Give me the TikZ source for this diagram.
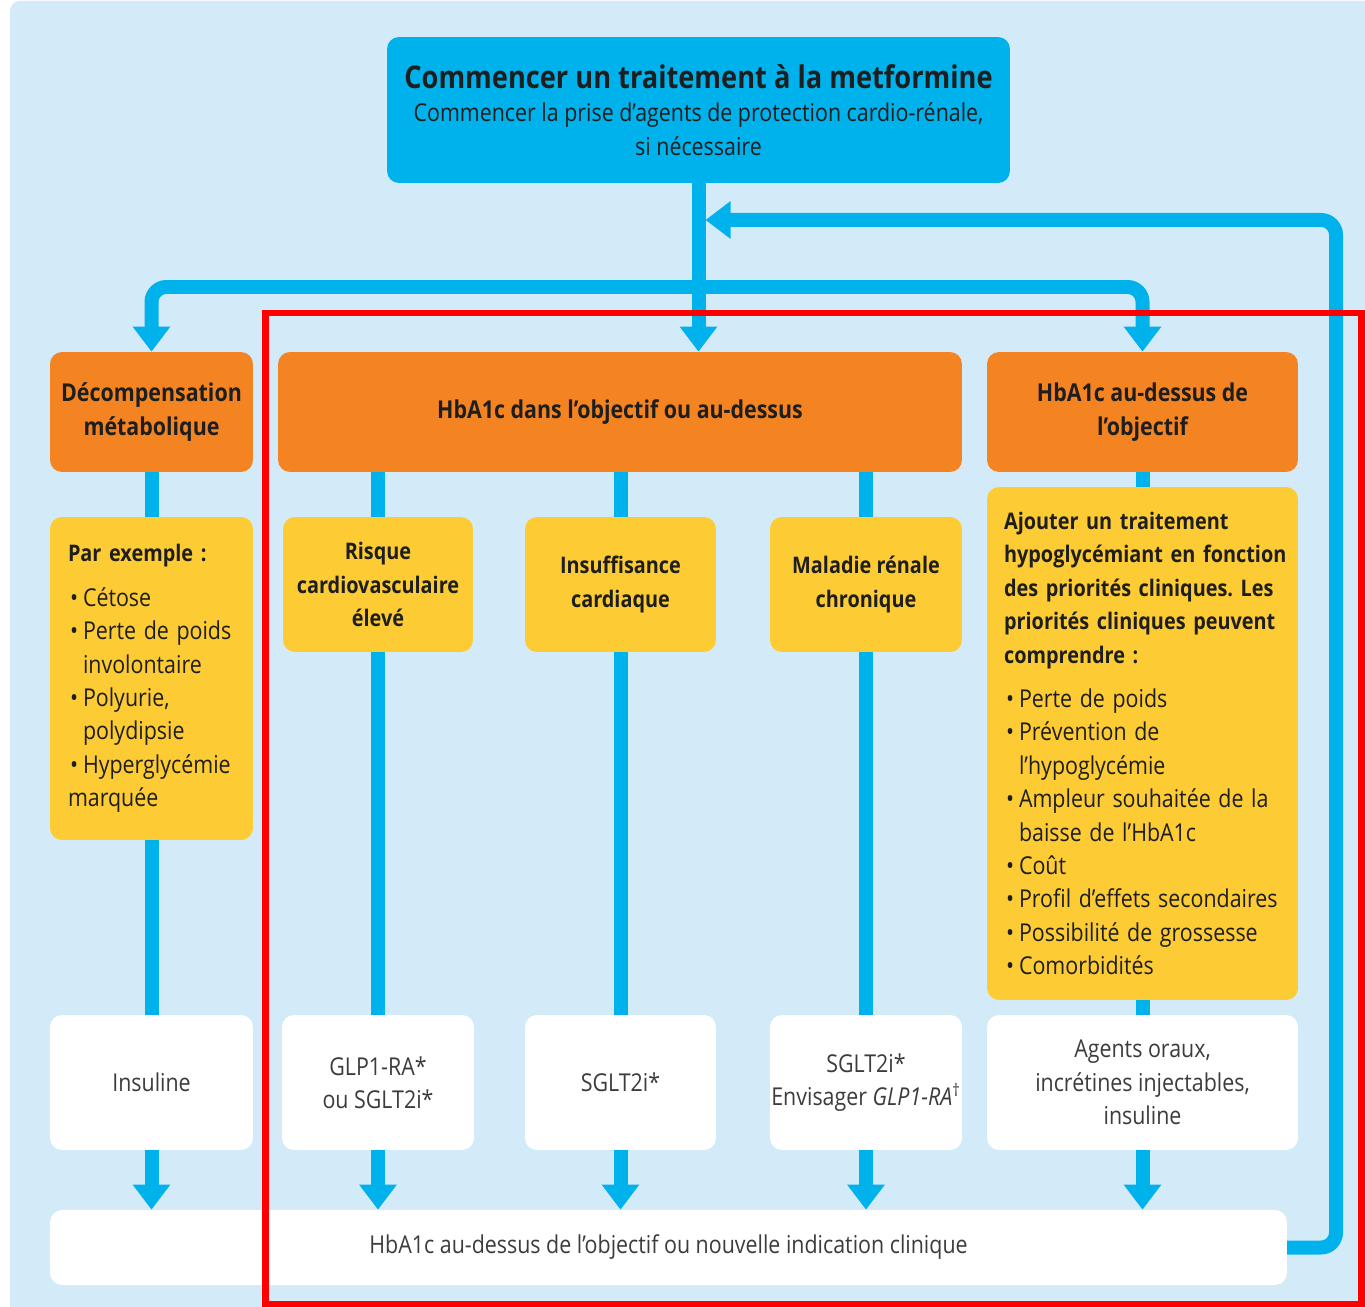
\documentclass[tikz,border=0pt]{standalone}
\usepackage{fontspec}
\setmainfont{Open Sans}[FakeStretch=0.87]
\usetikzlibrary{arrows.meta,positioning}
\definecolor{fond}{HTML}{D3EAF8}
\definecolor{bleu}{HTML}{00B2EB}
\definecolor{orangeb}{HTML}{F48422}
\definecolor{jaune}{HTML}{FDCB33}
\definecolor{texte}{HTML}{1E1E1E}
\definecolor{gris}{HTML}{3C3C3C}
\definecolor{rouge}{HTML}{FF0000}
\pgfdeclarelayer{fondplan}
\pgfdeclarelayer{liens}
\pgfsetlayers{fondplan,liens,main}
\frenchspacing
\newcommand\corps{\mdseries\fontsize{14}{19}\selectfont}
\newcommand\gras{\bfseries\fontsize{14}{19}\selectfont}
\newcommand\grasj{\bfseries\fontsize{13}{19}\selectfont}
\newcommand\titre{\bfseries\fontsize{17.8}{22}\selectfont}
\newcommand\puce[1]{\par\hangindent=0.3cm\hangafter=1\noindent\hspace{0.04cm}\makebox[0.26cm][l]{•}#1}

\begin{document}
\begin{tikzpicture}[x=0.02cm,y=-0.02cm,
    box/.style={rounded corners=0.24cm, inner sep=0pt, text=texte, align=center},
    orangebox/.style={box, fill=orangeb, minimum height=2.4cm, font=\gras},
    jaunebox/.style={box, fill=jaune, font=\grasj},
    blancbox/.style={box, fill=white, minimum height=2.7cm, text=gris, font=\corps},
    lien/.style={bleu, line width=0.28cm},
    fleche/.style={lien, -{Triangle[width=0.72cm,length=0.5cm]}}]
\useasboundingbox (0,0) rectangle (1365,1307);
\begin{pgfonlayer}{fondplan}
\fill[white] (0,0) rectangle (1365,1307);
\fill[fond] (10,1307) [rounded corners=0.2cm] -- (10,1) [sharp corners] -- (1365,1) -- (1365,1307) -- cycle;
\end{pgfonlayer}

% depart
\node[box, fill=bleu, minimum width=12.46cm, minimum height=2.92cm, font=\corps] (metf) at (698.5,110)
  {{\titre Commencer un traitement à la metformine}\\Commencer la prise d’agents de protection cardio-rénale,\\si nécessaire};

% situations
\node[orangebox, minimum width=4.06cm] (decomp) at (151.5,412) {Décompensation\\métabolique};
\node[orangebox, minimum width=13.68cm] (dans) at (620,412) {HbA1c dans l’objectif ou au-dessus};
\node[orangebox, minimum width=6.22cm] (dessus) at (1142.5,412) {HbA1c au-dessus de\\l’objectif};

% criteres
\node[jaunebox, minimum width=4.06cm, minimum height=6.46cm, text width=3.34cm, align=left] (exemple) at (151.5,678.5)
  {Par exemple :\par\vspace{0.22cm}\corps
   \puce{Cétose}\puce{Perte de poids\newline involontaire}\puce{Polyurie,\newline polydipsie}\puce{Hyperglycémie\newline marquée}};
\node[jaunebox, minimum width=3.8cm, minimum height=2.7cm] (risque) at (378,584.5) {Risque\\cardiovasculaire\\élevé};
\node[jaunebox, minimum width=3.82cm, minimum height=2.7cm] (insuff) at (620.5,584.5) {Insuffisance\\cardiaque};
\node[jaunebox, minimum width=3.84cm, minimum height=2.7cm] (renal) at (866,584.5) {Maladie rénale\\chronique};
\node[jaunebox, minimum width=6.22cm, minimum height=10.26cm, text width=5.54cm, align=left] (priorites) at (1142.5,743.5)
  {\mbox{Ajouter un traitement}\\\mbox{hypoglycémiant en fonction}\\\mbox{des priorités cliniques. Les}\\\mbox{priorités cliniques peuvent}\\\mbox{comprendre :}\par\vspace{0.22cm}\corps
   \puce{Perte de poids}\puce{Prévention de\newline l’hypoglycémie}\puce{Ampleur souhaitée de la\newline baisse de l’HbA1c}\puce{Coût}
   \puce{Profil d’effets secondaires}\puce{Possibilité de grossesse}\puce{Comorbidités}};

% traitements
\node[blancbox, minimum width=4.06cm] (insuline) at (151.5,1082.5) {Insuline};
\node[blancbox, minimum width=3.84cm] (glp) at (378,1082.5) {GLP1-RA*\\ou SGLT2i*};
\node[blancbox, minimum width=3.82cm] (sglt) at (620.5,1082.5) {SGLT2i*};
\node[blancbox, minimum width=3.84cm] (envis) at (866,1082.5) {SGLT2i*\\Envisager \textit{GLP1-RA}\textsuperscript{†}};
\node[blancbox, minimum width=6.22cm] (agents) at (1142.5,1082.5) {Agents oraux,\\incrétines injectables,\\insuline};
\node[blancbox, minimum width=24.74cm, minimum height=1.5cm] (bilan) at (668.5,1247.5)
  {HbA1c au-dessus de l’objectif ou nouvelle indication clinique};

\coordinate (fourche) at (698,287);
\coordinate (boucle) at (1336,220);
\begin{pgfonlayer}{liens}
\draw[fleche] (metf.south) -- (metf.south |- dans.north);
\draw[fleche, rounded corners=0.3cm] (fourche) -| (decomp.north);
\draw[fleche, rounded corners=0.3cm] (fourche) -| (dessus.north);
\draw[lien] (decomp.south) -- (insuline.north);
\foreach \c/\s in {risque/glp, insuff/sglt, renal/envis}
  \draw[lien] (dans.south -| \c) -- (\s.north);
\draw[lien] (dessus.south) -- (agents.north);
\foreach \s in {insuline,glp,sglt,envis,agents}
  \draw[fleche] (\s.south) -- (\s.south |- bilan.north);
\draw[fleche, rounded corners=0.3cm] (bilan.east) -| (boucle) -- ([xshift=0.14cm]metf.south |- boucle);
\end{pgfonlayer}

% cadre
\draw[rouge, line width=0.14cm] (265,313) rectangle (1361.5,1304);
\end{tikzpicture}
\end{document}
